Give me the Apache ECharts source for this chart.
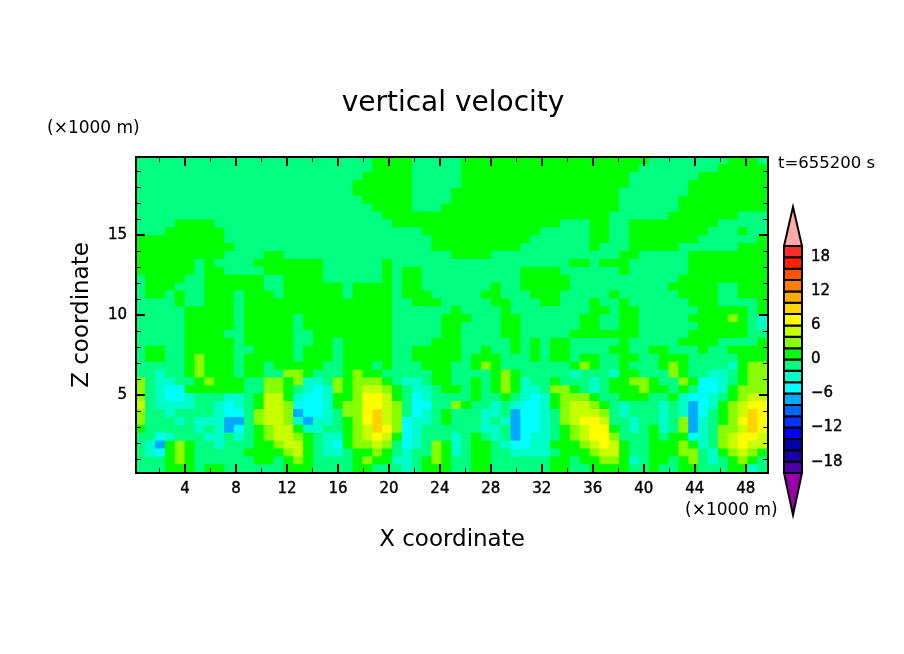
<!DOCTYPE html>
<html>
<head>
<meta charset="utf-8">
<style>html,body{margin:0;padding:0;background:#fff}#chart{width:904px;height:654px}</style>
<script src="https://cdn.jsdelivr.net/npm/echarts@6/dist/echarts.min.js"></script>
</head>
<body>
<div id="chart"></div>
<script>
// contour bands, lower edge of each one, from -20 up to 20 by 2
const levelLower = [-20,-18,-16,-14,-12,-10,-8,-6,-4,-2,0,2,4,6,8,10,12,14,16,18]
const levelColors = ['#4c00a6','#1a00a6','#0000aa','#0000ff','#0033ff','#0066ff','#00aaff','#00ffff','#00ffc8','#00ff80',
  '#00ff00','#88ff00','#c8ff00','#ffff00','#ffd400','#ffaa00','#ff7f00','#ff5500','#ff2000','#ff2a2a']
const tipColors = ['#ffaaaa','#9900aa']
const tipEnds = [[20,26.9],[-20,-27.4]]

const xMajor = [4,8,12,16,20,24,28,32,36,40,44,48]
const xMinor = [2,6,10,14,18,22,26,30,34,38,42,46]
const zMajor = [5,10,15]
const zMinor = [1,2,3,4,6,7,8,9,11,12,13,14,16,17,18,19]
const barTicks = [-18,-12,-6,0,6,12,18]

// w (m/s), band middles, rows from top (z=19.9) to bottom (z=0.1), 64 columns
const row00 = [-1,-1,-1,-1,-1,-1,-1,-1, -1,-1,-1,-1,-1,-1,-1,-1, -1,-1,-1,-1,-1,-1,-1,-1, 1,1,1,1,-1,-1,-1,-1, -1,1,1,1,1,1,1,1, 1,1,1,1,1,1,1,1, 1,1,1,1,-1,-1,-1,-1, -1,-1,-1,-1,1,1,1,-1]
const row01 = [-1,-1,-1,-1,-1,-1,-1,-1, -1,-1,-1,-1,-1,-1,-1,-1, -1,-1,-1,-1,-1,-1,-1,-1, 1,1,1,1,-1,-1,-1,-1, -1,1,1,1,1,1,1,1, 1,1,1,1,1,1,1,1, 1,1,1,-1,-1,-1,-1,-1, -1,-1,-1,1,1,1,1,1]
const row02 = [-1,-1,-1,-1,-1,-1,-1,-1, -1,-1,-1,-1,-1,-1,-1,-1, -1,-1,-1,-1,-1,-1,-1,1, 1,1,1,1,-1,-1,-1,-1, -1,1,1,1,1,1,1,1, 1,1,1,1,1,1,1,1, 1,1,-1,-1,-1,-1,-1,-1, -1,1,1,1,1,1,1,1]
const row03 = [-1,-1,-1,-1,-1,-1,-1,-1, -1,-1,-1,-1,-1,-1,-1,-1, -1,-1,-1,-1,-1,-1,1,1, 1,1,1,1,-1,-1,-1,-1, -1,1,1,1,1,1,1,1, 1,1,1,1,1,1,1,1, 1,1,-1,-1,-1,-1,-1,-1, 1,1,1,1,1,1,1,1]
const row04 = [-1,-1,-1,-1,-1,-1,-1,-1, -1,-1,-1,-1,-1,-1,-1,-1, -1,-1,-1,-1,-1,-1,1,1, 1,1,1,1,-1,-1,-1,-1, 1,1,1,1,1,1,1,1, 1,1,1,1,1,1,1,1, 1,-1,-1,-1,-1,-1,-1,-1, 1,1,1,1,1,1,1,1]
const row05 = [-1,-1,-1,-1,-1,-1,-1,-1, -1,-1,-1,-1,-1,-1,-1,-1, -1,-1,-1,-1,-1,-1,-1,1, 1,1,1,1,-1,-1,-1,-1, 1,1,1,1,1,1,1,1, 1,1,1,1,1,1,1,1, 1,-1,-1,-1,-1,-1,-1,1, 1,1,1,1,1,1,1,1]
const row06 = [-1,-1,-1,-1,-1,-1,-1,-1, -1,-1,-1,-1,-1,-1,-1,-1, -1,-1,-1,-1,-1,-1,-1,-1, 1,1,1,1,-1,-1,-1,1, 1,1,1,1,1,1,1,1, 1,1,1,1,1,1,1,1, 1,-1,-1,-1,-1,-1,-1,1, 1,1,1,1,1,1,1,1]
const row07 = [-1,-1,-1,-1,-1,-1,-1,-1, -1,-1,-1,-1,-1,-1,-1,-1, -1,-1,-1,-1,-1,-1,-1,-1, -1,1,1,1,1,1,1,1, 1,1,1,1,1,1,1,1, 1,1,1,1,1,1,1,1, -1,-1,-1,-1,-1,-1,1,1, 1,1,1,1,1,-1,-1,-1]
const row08 = [-1,-1,-1,-1,1,1,1,1, -1,-1,-1,-1,-1,-1,-1,-1, -1,-1,-1,-1,-1,-1,-1,-1, -1,-1,1,1,1,1,1,1, 1,1,1,1,1,1,1,1, 1,1,1,-1,-1,-1,1,1, -1,-1,1,1,1,1,1,1, 1,1,1,-1,-1,-1,-1,-1]
const row09 = [-1,-1,-1,1,1,1,1,1, 1,-1,-1,-1,-1,-1,-1,-1, -1,-1,-1,-1,-1,-1,-1,-1, -1,-1,-1,-1,-1,1,1,1, 1,1,1,1,1,1,1,1, 1,-1,-1,-1,-1,-1,1,1, -1,-1,1,1,1,1,1,1, 1,1,-1,-1,-1,1,-1,-1]
const row10 = [1,1,1,1,1,1,1,1, 1,-1,-1,-1,-1,-1,-1,-1, -1,-1,-1,-1,-1,-1,-1,-1, -1,-1,-1,-1,-1,-1,1,1, 1,1,1,1,1,1,1,1, -1,-1,-1,-1,-1,-1,1,1, -1,-1,1,1,1,1,1,1, 1,-1,-1,-1,-1,-1,-1,1]
const row11 = [1,1,1,1,1,1,1,1, 1,1,-1,-1,-1,-1,-1,-1, -1,-1,-1,-1,-1,-1,-1,-1, -1,-1,-1,-1,-1,-1,1,1, 1,1,1,1,1,1,1,-1, -1,-1,-1,-1,-1,-1,1,-1, -1,-1,1,1,1,1,1,-1, -1,-1,-1,-1,-1,1,1,1]
const row12 = [1,1,1,1,1,1,1,1, 1,-1,-1,-1,-1,1,1,-1, -1,-1,-1,-1,-1,-1,-1,-1, -1,-1,-1,-1,-1,-1,-1,-1, 1,1,1,1,-1,-1,-1,-1, -1,-1,-1,-1,-1,-1,-1,-1, -1,1,1,-1,-1,-1,-1,-1, 1,1,1,1,1,1,1,1]
const row13 = [1,1,1,1,1,1,-1,1, -1,-1,-1,-1,1,1,1,1, 1,1,1,-1,-1,-1,-1,-1, -1,1,-1,-1,-1,-1,-1,-1, -1,-1,-1,-1,-1,-1,-1,-1, -1,-1,-1,-1,1,1,-1,1, 1,1,-1,-1,-1,-1,-1,-1, 1,1,1,1,1,1,1,1]
const row14 = [1,1,1,1,1,1,-1,1, 1,-1,-1,-1,-1,1,1,1, 1,1,1,-1,-1,-1,-1,-1, -1,1,-1,1,1,-1,-1,-1, -1,-1,-1,-1,-1,-1,-1,1, 1,1,1,-1,-1,-1,-1,-1, -1,1,-1,-1,-1,-1,-1,-1, 1,1,1,1,1,1,1,1]
const row15 = [-1,1,1,1,1,-1,-1,1, 1,1,1,1,1,-1,-1,1, 1,1,1,-1,-1,-1,-1,-1, -1,1,-1,1,1,-1,-1,-1, -1,-1,-1,-1,-1,-1,-1,1, 1,1,1,1,-1,-1,-1,-1, -1,-1,-1,-1,-1,-1,-1,1, 1,1,1,1,1,1,1,1]
const row16 = [-1,1,1,1,-1,-1,-1,1, 1,1,1,1,1,-1,-1,1, 1,1,1,1,1,-1,1,1, 1,1,-1,1,1,-1,-1,-1, -1,-1,-1,-1,1,-1,-1,1, 1,1,1,1,-1,-1,-1,-1, -1,-1,-1,-1,-1,-1,1,1, 1,1,1,-1,-1,1,1,1]
const row17 = [-1,1,1,-1,1,-1,-1,1, 1,1,-1,1,1,1,-1,1, 1,1,1,1,1,-1,1,1, 1,1,-1,1,1,1,-1,-1, -1,-1,-1,1,1,-1,-1,-1, 1,1,1,-1,-1,-1,-1,-1, 1,-1,-1,-1,-1,-1,-1,1, 1,1,1,-1,-1,1,1,1]
const row18 = [-1,-1,-1,-1,1,-1,-1,1, 1,1,-1,1,1,1,1,1, 1,1,1,1,1,1,1,1, 1,1,-1,-1,1,1,1,-1, -1,-1,-1,-1,1,1,-1,-1, -1,1,1,-1,-1,-1,1,-1, -1,1,-1,-1,-1,-1,-1,-1, 1,1,1,-1,-1,-1,-1,1]
const row19 = [-1,-1,-1,-1,-1,1,1,1, 1,1,-1,1,1,1,1,1, 1,1,1,1,1,1,1,1, 1,1,-1,-1,-1,-1,-1,-1, 1,-1,-1,-1,-1,1,-1,-1, -1,-1,-1,-1,-1,-1,1,1, -1,1,1,-1,-1,-1,-1,-1, -1,1,1,1,1,1,-1,1]
const row20 = [-1,-1,-1,-1,-1,1,1,1, 1,1,-1,1,1,1,1,1, -1,1,1,1,1,1,1,1, 1,1,-1,-1,-1,-1,-1,1, 1,1,-1,-1,-1,1,1,-1, -1,-1,-1,-1,-1,1,1,-1, -1,1,1,-1,-1,-1,-1,-1, 1,1,1,1,3,1,-1,-3]
const row21 = [-1,-1,-1,-1,-1,1,1,1, 1,1,-1,1,1,1,1,1, -1,1,1,1,1,1,1,1, 1,1,-1,-1,-1,-1,-1,1, 1,-1,-1,-1,-1,1,1,-1, -1,-1,-1,-1,-1,1,1,-1, -1,1,1,-1,-1,-1,-1,-1, -1,1,1,1,1,1,-1,-3]
const row22 = [-1,-1,-1,-1,-1,1,1,1, 1,-1,-1,1,1,1,1,1, -1,-1,1,1,1,1,1,1, 1,1,-1,-1,-1,-1,-1,1, 1,-1,-1,-1,-1,1,1,-1, -1,-1,-1,-1,1,1,1,1, 1,1,1,-1,-1,-1,-1,-1, 1,1,1,1,1,1,-1,-1]
const row23 = [-1,-1,-1,-1,-1,1,1,1, 1,1,-1,1,1,1,1,1, -1,-1,1,1,-1,1,1,1, 1,1,-1,-1,-1,-1,1,1, 1,-1,-1,-1,-1,-1,1,-1, 1,-1,1,1,-1,-1,-1,-1, -1,1,-1,-1,-1,-1,-1,1, 1,1,1,-1,-1,-1,-1,1]
const row24 = [-1,1,1,-1,-1,1,1,1, 1,1,-1,-1,1,1,1,1, -1,1,1,1,-1,1,1,1, 1,1,-1,-1,1,1,1,1, 1,-1,-1,1,-1,-1,1,-1, 1,-1,1,1,-1,-1,-1,-1, 1,1,-1,-1,1,1,-1,-1, -1,1,-1,-1,1,1,1,1]
const row25 = [-1,1,1,-1,-1,1,3,1, 1,1,-1,1,1,1,1,1, -1,1,1,1,-1,1,1,1, 1,1,-1,-1,1,1,1,1, 1,-1,1,1,1,-1,-1,-1, 1,-1,1,1,-1,1,1,-1, -1,1,1,-1,-1,1,1,1, -1,-1,-1,-1,-1,1,1,1]
const row26 = [-1,-1,-1,-1,-1,1,3,1, 1,1,-1,1,1,-1,1,1, 1,1,1,-1,-1,1,1,1, -1,1,-1,-1,-1,1,1,1, -1,-1,1,3,1,-1,-1,-1, -1,-1,-1,-1,1,3,1,-1, -1,1,-1,-1,-1,1,3,1, -1,-1,-1,-1,-3,1,3,3]
const row27 = [-1,-1,-3,-1,-1,1,3,1, 1,1,-1,1,1,-1,-1,3, 3,1,-1,-1,-1,1,3,1, 1,-1,-1,-1,-1,-1,1,1, -1,-1,-1,-1,1,3,1,-1, -1,-1,-1,-1,-3,-1,-1,-1, -3,1,1,-1,-1,-1,3,1, -1,-1,-3,-3,-1,1,3,3]
const row28 = [3,-1,-3,-3,-1,-1,1,3, 1,1,1,-1,-1,3,3,1, 3,-3,-3,-1,3,1,3,3, 3,1,-1,-3,-3,-1,1,1, -1,-1,1,-1,1,3,1,-3, -1,-1,1,-1,-1,-1,-3,-1, 1,1,3,3,1,-1,-1,3, 1,-5,-5,-3,-1,1,3,3]
const row29 = [3,-1,-3,-5,-5,1,1,1, 1,1,1,-1,-1,3,3,1, -1,-3,-5,-3,3,1,3,5, 5,3,1,-1,-3,-3,-1,1, 1,-1,1,-1,1,3,1,-3, -3,-1,3,3,1,-1,-3,-1, 1,1,1,3,1,1,-1,1, -1,-5,-5,-3,1,3,3,3]
const row30 = [3,-1,-3,-5,-5,-3,-1,-1, -1,-3,-3,-1,1,5,5,1, -3,-5,-5,-3,1,1,3,7, 7,5,1,-1,-5,-3,-1,-1, -1,-1,1,-1,-1,1,-1,-3, -5,-3,1,3,3,3,1,-1, -1,1,1,1,-1,-1,1,-3, -5,-5,-3,-1,1,3,5,5]
const row31 = [5,-1,-3,-3,-3,-3,-1,-1, -3,-5,-3,-1,1,5,5,3, -5,-5,-5,-3,1,3,3,7, 7,5,3,-1,-5,-5,-1,-1, 3,1,-1,-1,-3,-1,-3,-5, -5,-3,1,3,5,5,3,1, -1,-3,-1,-1,-1,-3,-1,-3, -7,-5,-3,1,3,5,7,7]
const row32 = [3,-1,-1,-3,-1,-1,-1,-1, -3,-5,-5,-1,3,5,5,3, -7,-5,-5,-3,-1,3,3,7, 9,5,3,-1,-5,-3,-1,1, -1,-1,-1,-3,-3,-1,-7,-5, -5,-3,-1,3,5,5,5,3, -1,-3,-1,-1,-1,-3,-1,-3, -7,-5,-1,1,3,5,9,7]
const row33 = [3,-1,-1,-1,-3,-1,-3,-3, -3,-7,-7,-1,3,5,5,3, -3,-7,-3,-3,-1,1,3,7, 9,5,3,-5,-3,-3,-1,1, -1,-1,-1,-3,-1,-3,-7,-5, -5,-3,-1,3,5,7,7,5, -1,-1,-3,-1,-1,-3,-1,3, -7,-3,-1,1,3,7,9,7]
const row34 = [1,-1,-1,-1,-1,-1,-3,-1, -3,-7,-5,-1,1,3,5,5, 1,-3,-3,-1,-1,1,3,5, 9,7,3,-5,-3,-1,-1,-1, -1,-1,-1,-3,-3,-1,-7,-5, -5,-3,-1,1,3,5,7,7, 1,-1,-3,-1,1,-3,-1,3, -7,-3,-1,3,3,5,9,7]
const row35 = [-1,-1,-5,-3,-1,-1,-1,-3, -3,-1,-3,-1,1,3,5,5, 3,1,-1,-3,-3,1,3,5, 7,5,1,-5,-3,-1,-1,-1, -3,-1,1,-1,-3,-1,-7,-5, -3,-3,-1,1,3,5,7,7, 3,-1,-1,-1,1,-1,1,1, -5,-3,-1,3,5,7,7,5]
const row36 = [-1,-3,-7,1,3,1,-1,-1, -3,-1,-1,-1,1,1,3,5, 5,1,-1,-3,-5,1,3,3, 5,3,-1,-5,-3,-1,3,1, -3,-1,1,1,-1,-3,-5,-5, -3,-3,1,1,1,3,5,7, 5,1,-1,-1,1,1,1,3, 1,-3,-1,3,5,7,5,5]
const row37 = [-1,-3,-5,1,3,1,-1,-1, -1,-1,-1,1,1,1,1,3, 5,1,-1,-3,-3,-1,1,1, 3,1,-1,-3,-1,-1,3,1, -3,-1,1,1,-1,-1,-3,-3, -3,-3,-1,1,1,1,3,5, 5,1,-1,-1,1,1,1,3, 3,-1,-3,1,3,5,3,1]
const row38 = [-1,-1,-1,1,3,1,-1,-1, -1,-1,-1,-1,1,1,-1,1, 3,1,-1,-1,-1,-1,1,3, 1,1,-3,-3,-1,1,3,1, -1,-1,1,1,-1,-1,-1,-1, -1,-1,1,1,-1,1,1,3, 3,1,-3,-1,1,1,-1,1, 3,-1,-3,-1,1,3,1,-1]
const row39 = [-1,-1,-1,1,1,1,-1,1, 1,-1,-1,-1,-1,-1,-1,1, 1,1,-1,-1,-1,-1,1,1, -1,-1,-1,-3,-1,1,1,1, -1,-1,1,1,-1,-1,-1,-1, -1,-1,1,1,-1,-1,1,1, 1,1,-1,-1,1,-1,-1,1, 1,-1,-1,-1,1,1,-3,-1]

const rows = [row00,row01,row02,row03,row04,row05,row06,row07,row08,row09,row10,row11,row12,row13,row14,row15,row16,row17,row18,row19,
  row20,row21,row22,row23,row24,row25,row26,row27,row28,row29,row30,row31,row32,row33,row34,row35,row36,row37,row38,row39]

function bandColor(w) {
  return levelColors[levelLower.findIndex(v => w >= v && w < v + 2)]
}

// same colour on the border, otherwise hairlines show between the cells
const heat = []
rows.forEach((row, j) => row.forEach((w, i) => {
  const c = bandColor(w)
  heat.push({value: [i, rows.length - 1 - j, w], itemStyle: {color: c, borderColor: c, borderWidth: 1}})
}))

const FONT = '"DejaVu Sans"'
const plot = {left: 136, top: 157, width: 632, height: 316}
const line = {show: true, onZero: false, lineStyle: {color: '#000', width: 2}}
const tickFont = {color: '#000', fontFamily: FONT, fontSize: 15, margin: 9, textBorderColor: '#000', textBorderWidth: 0.4}
const nameFont = {color: '#000', fontFamily: FONT, fontSize: 23}
const noteFont = {color: '#000', fontFamily: FONT, fontSize: 17, fontWeight: 'normal'}

function frameX(gridIndex, position, ticks, len, width, labels) {
  return {
    type: 'value', gridIndex, position, min: 0.15, max: 49.75, z: 10,
    axisLine: line, splitLine: {show: false},
    axisTick: {show: true, inside: true, length: len, lineStyle: {color: '#000', width}, customValues: ticks},
    axisLabel: labels ? {customValues: ticks, ...tickFont} : {show: false}
  }
}
function frameZ(gridIndex, position, ticks, len, width, labels) {
  return {
    type: 'value', gridIndex, position, min: 0.125, max: 19.875, z: 10,
    axisLine: line, splitLine: {show: false},
    axisTick: {show: true, inside: true, length: len, lineStyle: {color: '#000', width}, customValues: ticks},
    axisLabel: labels ? {customValues: ticks, ...tickFont} : {show: false}
  }
}

const bottomMajor = frameX(1, 'bottom', xMajor, 9, 2, true)
bottomMajor.name = 'X coordinate'
bottomMajor.nameLocation = 'middle'
bottomMajor.nameGap = 56
bottomMajor.nameTextStyle = nameFont
const leftMajor = frameZ(1, 'left', zMajor, 9, 2, true)
leftMajor.name = 'Z coordinate'
leftMajor.nameLocation = 'middle'
leftMajor.nameGap = 42
leftMajor.nameTextStyle = nameFont

const chart = echarts.init(document.getElementById('chart'), null, {renderer: 'canvas'})
chart.setOption({
  animation: false,
  backgroundColor: '#fff',
  title: [
    {text: 'vertical velocity', left: 448, top: 85, textAlign: 'center', textStyle: {color: '#000', fontFamily: FONT, fontSize: 28, fontWeight: 'normal'}},
    {text: '(×1000 m)', left: 42, top: 115, textStyle: noteFont},
    {text: '(×1000 m)', left: 680, top: 497, textStyle: noteFont},
    {text: 't=655200 s', left: 773, top: 150, textStyle: {...noteFont, fontSize: 16.5}}
  ],
  grid: [plot, plot, plot, {left: 784, top: 246, width: 18, height: 227}],
  xAxis: [
    {type: 'category', gridIndex: 0, show: false, data: rows[0].map((_, i) => i)},
    bottomMajor,
    frameX(1, 'top', xMajor, 9, 2, false),
    frameX(2, 'bottom', xMinor, 5, 1, false),
    frameX(2, 'top', xMinor, 5, 1, false),
    {type: 'value', gridIndex: 3, show: false, min: 0, max: 1}
  ],
  yAxis: [
    {type: 'category', gridIndex: 0, show: false, data: rows.map((_, j) => j)},
    leftMajor,
    frameZ(1, 'right', zMajor, 9, 2, false),
    frameZ(2, 'left', zMinor, 5, 1, false),
    frameZ(2, 'right', zMinor, 5, 1, false),
    {
      type: 'value', gridIndex: 3, min: -20, max: 20, position: 'right',
      axisLine: {show: false}, axisTick: {show: false}, splitLine: {show: false},
      axisLabel: {
        customValues: barTicks, ...tickFont,
        formatter: v => String(v).replace('-', '\u2212')
      }
    }
  ],
  visualMap: {
    type: 'piecewise', show: false, seriesIndex: 0, dimension: 2,
    pieces: levelLower.map((v, i) => ({gte: v, lt: v + 2, color: levelColors[i]}))
  },
  series: [
    {type: 'heatmap', xAxisIndex: 0, yAxisIndex: 0, data: heat, progressive: 0, emphasis: {disabled: true}},
    {
      type: 'custom', xAxisIndex: 5, yAxisIndex: 5, silent: true, data: levelLower,
      renderItem: (params, api) => {
        const lower = levelLower[params.dataIndex]
        const a = api.coord([0, lower])
        const b = api.coord([1, lower + 2])
        return {type: 'rect', shape: {x: a[0], y: b[1], width: b[0] - a[0], height: a[1] - b[1]},
          style: {fill: levelColors[params.dataIndex], stroke: '#000', lineWidth: 2}}
      }
    },
    {
      type: 'custom', xAxisIndex: 5, yAxisIndex: 5, silent: true, clip: false, data: tipEnds,
      renderItem: (params, api) => {
        const t = tipEnds[params.dataIndex]
        return {type: 'polygon', shape: {points: [api.coord([0, t[0]]), api.coord([1, t[0]]), api.coord([0.5, t[1]])]},
          style: {fill: tipColors[params.dataIndex], stroke: '#000', lineWidth: 2}}
      }
    }
  ]
})
</script>
</body>
</html>
